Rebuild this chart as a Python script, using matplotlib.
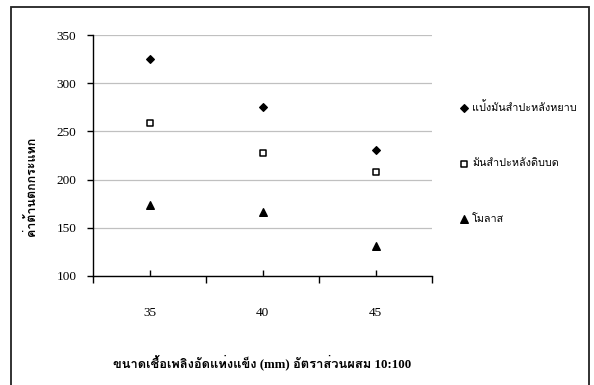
import matplotlib
matplotlib.use("Agg")
import matplotlib.pyplot as plt
from matplotlib import font_manager
from matplotlib.ft2font import FT2Font
from matplotlib.patches import Rectangle

# data
sizes = [35, 40, 45]
flour_coarse = [325, 275, 231]      # แป้งมันสำปะหลังหยาบ
cassava_ground = [259, 228, 208]    # มันสำปะหลังดิบบด
molasses = [174, 166, 131]          # โมลาส

series_names = ["แป้งมันสำปะหลังหยาบ", "มันสำปะหลังดิบบด", "โมลาส"]
y_label = "ค่าต้านตกกระแทก"
x_label = "ขนาดเชื้อเพลิงอัดแท่งแข็ง (mm) อัตราส่วนผสม 10:100"


def thai_fonts():
    found = []
    for f in font_manager.fontManager.ttflist:
        try:
            if 0x0E01 in FT2Font(f.fname).get_charmap():
                if f.name not in found:
                    found.append(f.name)
        except Exception:
            pass
    return found


thai = thai_fonts()
plt.rcParams["font.family"] = ["Liberation Serif"] + thai + ["DejaVu Sans"]

fig = plt.figure(figsize=(5.94, 3.85), dpi=100)
fig.patches.append(Rectangle((11 / 594, -0.02), 578 / 594, 1.0 - 7 / 385 + 0.02,
                             transform=fig.transFigure, fill=False,
                             edgecolor="#222222", linewidth=1.3))

ax = fig.add_axes([93 / 594, 1 - 276 / 385, 339 / 594, 241 / 385])

ax.scatter(sizes, flour_coarse, marker="D", s=15, color="black", label=series_names[0], zorder=3)
ax.scatter(sizes, cassava_ground, marker="s", s=24, facecolor="white", edgecolor="black",
           linewidth=1.1, label=series_names[1], zorder=3)
ax.scatter(sizes, molasses, marker="^", s=30, color="black", label=series_names[2], zorder=3)

ax.set_xlim(32.5, 47.5)
ax.set_ylim(100, 350)
ax.set_yticks(range(100, 351, 50))
ax.set_xticks(sizes)
ax.set_xticks([32.5, 37.5, 42.5, 47.5], minor=True)
ax.grid(axis="y", color="#c0c0c0", linewidth=0.9)
ax.set_axisbelow(True)

for s in ["top", "right"]:
    ax.spines[s].set_visible(False)
for s in ["left", "bottom"]:
    ax.spines[s].set_linewidth(1.0)

ax.tick_params(axis="y", direction="out", length=4, width=1.0, labelsize=9.5, pad=8)
ax.tick_params(axis="x", which="major", direction="in", length=4, width=1.0, labelsize=9.5, pad=22)
ax.tick_params(axis="x", which="minor", direction="out", length=5, width=1.0)

ax.set_ylabel(y_label, fontsize=9, fontweight="bold")
ax.yaxis.set_label_coords(-0.162, 0.37)
ax.set_xlabel(x_label, fontsize=9.3, fontweight="bold", labelpad=26)

ax.legend(loc="upper left", bbox_to_anchor=(455 / 594, 1 - 96 / 385),
          bbox_transform=fig.transFigure, frameon=False, fontsize=7.8,
          labelspacing=4.2, handlelength=0.6, handletextpad=0.5, borderpad=0)

fig.savefig("out.png", dpi=100)
